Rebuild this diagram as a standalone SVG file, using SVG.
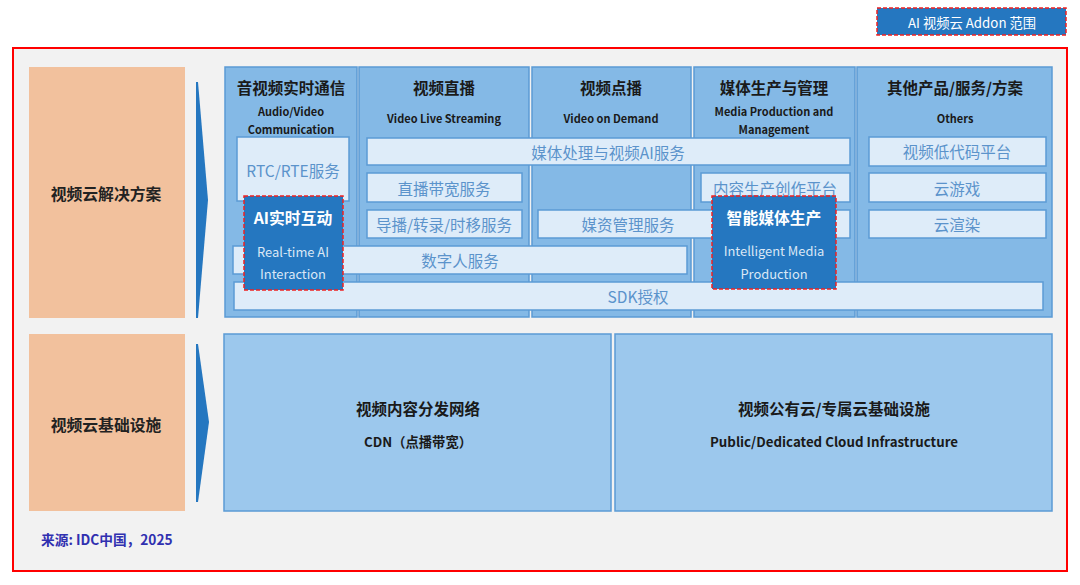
<svg xmlns="http://www.w3.org/2000/svg" width="1080" height="585" viewBox="0 0 1080 585">
<defs>
<style>
text{font-family:"Noto Sans CJK SC","Noto Sans",sans-serif;text-anchor:middle;dominant-baseline:central}
.col{fill:#84b9e6;stroke:#5b9bd5;stroke-width:1.5}
.inner{fill:#deecf9;stroke:#5b9bd5;stroke-width:1.5}
.itxt{fill:#5b93cb;font-size:15.5px}
.hdr{fill:#1a1a1a;font-size:15.5px;font-weight:bold}
.sub{fill:#1a1a1a;font-size:11px;font-weight:bold}
.orange{fill:#f2c19d}
.otxt{fill:#222;font-size:15.8px;font-weight:bold}
.arrow{fill:#2577c0}
.ai{fill:#2577c0;stroke:#ee2222;stroke-width:1.5;stroke-dasharray:4 2}
.aititle{fill:#fff;font-size:15.8px;font-weight:bold}
.aisub{fill:#dbe7f5;font-size:12.9px}
.base{fill:#9cc8ed;stroke:#5b9bd5;stroke-width:1.5}
.btitle{fill:#1a1a1a;font-size:15.5px;font-weight:bold}
.bsub{fill:#1a1a1a;font-size:13.3px;font-weight:bold}
</style>
</defs>
<rect x="0" y="0" width="1080" height="585" fill="#ffffff"/>

<g id="legend">
<rect x="877" y="8" width="189" height="27" class="ai"/>
<text x="972" y="22" style="fill:#fff;font-size:13.3px">AI 视频云 Addon 范围</text>
</g>

<g id="frame">
<rect x="13" y="48" width="1054" height="523" fill="#f2f2f2" stroke="#ff0000" stroke-width="2"/>
</g>

<g id="solutions-label">
<rect x="29" y="67" width="156" height="251" class="orange"/>
<text x="106" y="193" class="otxt">视频云解决方案</text>
</g>
<g id="infra-label">
<rect x="29" y="334" width="156" height="177" class="orange"/>
<text x="106" y="424" class="otxt">视频云基础设施</text>
</g>

<g id="connectors">
<polygon points="196,82 198,82 208,200 198,318 196,318" class="arrow"/>
<polygon points="196,344 198,344 209,422 198,502 196,502" class="arrow"/>
</g>

<g id="col-rtc">
<rect x="225" y="67" width="132" height="250" class="col"/>
<text x="291" y="87" class="hdr">音视频实时通信</text>
<text x="291" y="111" class="sub">Audio/Video</text>
<text x="291" y="129" class="sub">Communication</text>
</g>
<g id="col-live">
<rect x="359" y="67" width="170" height="250" class="col"/>
<text x="444" y="87" class="hdr">视频直播</text>
<text x="444" y="118" class="sub">Video Live Streaming</text>
</g>
<g id="col-vod">
<rect x="532" y="67" width="159" height="250" class="col"/>
<text x="611" y="87" class="hdr">视频点播</text>
<text x="611" y="118" class="sub">Video on Demand</text>
</g>
<g id="col-media">
<rect x="694" y="67" width="161" height="250" class="col"/>
<text x="774" y="87" class="hdr">媒体生产与管理</text>
<text x="774" y="111" class="sub">Media Production and</text>
<text x="774" y="129" class="sub">Management</text>
</g>
<g id="col-others">
<rect x="857" y="67" width="195" height="250" class="col"/>
<text x="955" y="87" class="hdr">其他产品/服务/方案</text>
<text x="955" y="118" class="sub">Others</text>
</g>

<g id="rtc-service">
<rect x="237" y="137" width="112" height="64" class="inner"/>
<text x="293" y="170" class="itxt">RTC/RTE服务</text>
</g>
<g id="media-ai">
<rect x="367" y="138" width="483" height="27" class="inner"/>
<text x="608" y="152" class="itxt">媒体处理与视频AI服务</text>
</g>
<g id="live-bandwidth">
<rect x="367" y="173" width="155" height="29" class="inner"/>
<text x="444" y="188" class="itxt">直播带宽服务</text>
</g>
<g id="live-director">
<rect x="367" y="210" width="155" height="28" class="inner"/>
<text x="444" y="224" class="itxt">导播/转录/时移服务</text>
</g>
<g id="content-platform">
<rect x="701" y="173" width="149" height="29" class="inner"/>
<text x="775" y="188" class="itxt">内容生产创作平台</text>
</g>
<g id="asset-mgmt">
<rect x="538" y="210" width="312" height="28" class="inner"/>
<text x="628" y="224" class="itxt">媒资管理服务</text>
</g>
<g id="lowcode">
<rect x="869" y="137" width="177" height="29" class="inner"/>
<text x="957" y="151" class="itxt">视频低代码平台</text>
</g>
<g id="cloud-gaming">
<rect x="869" y="173" width="177" height="29" class="inner"/>
<text x="957" y="188" class="itxt">云游戏</text>
</g>
<g id="cloud-render">
<rect x="869" y="210" width="177" height="28" class="inner"/>
<text x="957" y="224" class="itxt">云渲染</text>
</g>
<g id="digital-human">
<rect x="233" y="246" width="454" height="28" class="inner"/>
<text x="460" y="260" class="itxt">数字人服务</text>
</g>
<g id="sdk">
<rect x="234" y="282" width="809" height="28" class="inner"/>
<text x="638" y="296" class="itxt">SDK授权</text>
</g>

<g id="ai-interaction">
<rect x="244" y="196" width="99" height="94" class="ai"/>
<text x="293" y="217" class="aititle">AI实时互动</text>
<text x="293" y="251" class="aisub">Real-time AI</text>
<text x="293" y="273" class="aisub">Interaction</text>
</g>
<g id="ai-media">
<rect x="712" y="196" width="124" height="93" class="ai"/>
<text x="774" y="217" class="aititle">智能媒体生产</text>
<text x="774" y="250" class="aisub">Intelligent Media</text>
<text x="774" y="273" class="aisub">Production</text>
</g>

<g id="cdn">
<rect x="224" y="334" width="387" height="177" class="base"/>
<text x="418" y="408" class="btitle">视频内容分发网络</text>
<text x="418" y="441" class="bsub">CDN（点播带宽）</text>
</g>
<g id="cloud-infra">
<rect x="615" y="334" width="437" height="177" class="base"/>
<text x="834" y="408" class="btitle">视频公有云/专属云基础设施</text>
<text x="834" y="441" class="bsub">Public/Dedicated Cloud Infrastructure</text>
</g>

<text x="41" y="539" style="text-anchor:start;fill:#3030b0;font-size:13.7px;font-weight:bold">来源: IDC中国，2025</text>
</svg>
